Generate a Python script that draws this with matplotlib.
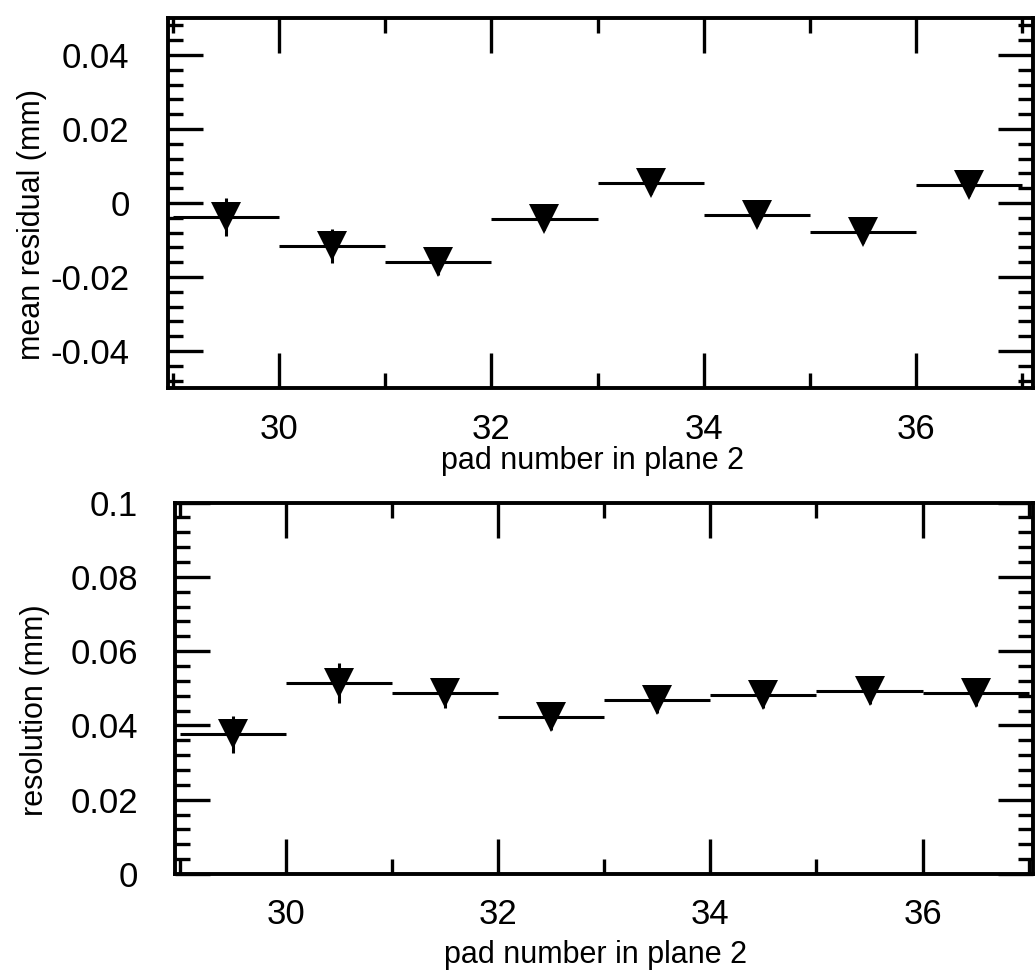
import matplotlib
matplotlib.use("Agg")
import matplotlib.pyplot as plt
from matplotlib.ticker import MultipleLocator
import numpy as np

plt.rcParams['font.family'] = ['Liberation Sans', 'DejaVu Sans']

# pad bins in plane 2 (centres), half width of each bin
pads = [29.5, 30.5, 31.5, 32.5, 33.5, 34.5, 35.5, 36.5]
bin_half = [0.5] * 8

# top panel: mean residual (mm)
mean_res = [-0.0038, -0.0116, -0.0159, -0.0042, 0.0055, -0.0033, -0.0078, 0.0050]
mean_err = [0.0052, 0.0046, 0.0035, 0.003, 0.003, 0.003, 0.003, 0.003]

# bottom panel: resolution (mm)
resol = [0.0376, 0.0514, 0.0488, 0.0424, 0.0468, 0.0483, 0.0494, 0.0487]
resol_err = [0.0049, 0.0053, 0.004, 0.0035, 0.0035, 0.0035, 0.0035, 0.0035]

xlabel = "pad number in plane 2"

fig = plt.figure(figsize=(10.36, 9.76), dpi=100)
ax1 = fig.add_axes([0.1626, 0.6025, 0.8345, 0.379])
ax2 = fig.add_axes([0.1694, 0.1045, 0.8277, 0.3806])


def style(ax, ymin, ymax, xmax, ylab, lab_x, lab_y, xlab_y, ypad, xpad):
	ax.set_xlim(28.96, xmax)
	ax.set_ylim(ymin, ymax)
	ax.xaxis.set_major_locator(MultipleLocator(2))
	ax.xaxis.set_minor_locator(MultipleLocator(1))
	ax.yaxis.set_major_locator(MultipleLocator(0.02))
	ax.yaxis.set_minor_locator(MultipleLocator(0.004))
	ax.tick_params(which='both', direction='in', top=True, right=True, width=2.4)
	ax.tick_params(which='major', length=25)
	ax.tick_params(which='minor', length=11)
	ax.tick_params(axis='y', which='major', pad=ypad, labelsize=25)
	ax.tick_params(axis='x', which='major', pad=xpad, labelsize=25)
	for s in ax.spines.values():
		s.set_linewidth(2.8)
	ax.yaxis.set_major_formatter(plt.FuncFormatter(lambda v, p: ('%g' % round(v, 4))))
	ax.set_ylabel(ylab, fontsize=22, va='center')
	ax.yaxis.set_label_coords(lab_x, lab_y)
	ax.set_xlabel(xlabel, fontsize=22, va='center')
	ax.xaxis.set_label_coords(0.49, xlab_y)


ax1.errorbar(pads, mean_res, xerr=bin_half, yerr=mean_err, fmt='v', color='black',
	markersize=21, markeredgewidth=0, elinewidth=2.2, capsize=0)
style(ax1, -0.05, 0.05, 37.1, "mean residual (mm)", -0.158, 0.443, -0.197, 28, 18)

ax2.errorbar(pads, resol, xerr=bin_half, yerr=resol_err, fmt='v', color='black',
	markersize=21, markeredgewidth=0, elinewidth=2.2, capsize=0)
style(ax2, 0, 0.1, 37.04, "resolution (mm)", -0.164, 0.441, -0.218, 27, 17)

plt.savefig('out.png', dpi=100)
plt.close()
